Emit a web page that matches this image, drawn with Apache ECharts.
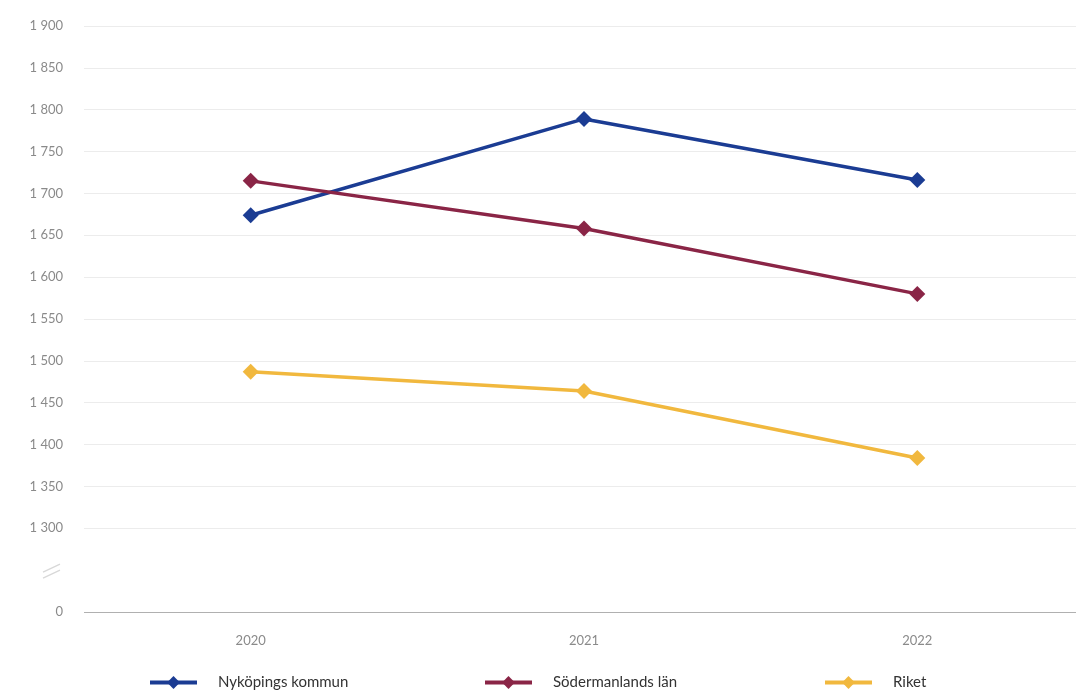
<!DOCTYPE html>
<html><head><meta charset="utf-8">
<script src="https://cdn.jsdelivr.net/npm/echarts@6/dist/echarts.min.js"></script>
<style>html,body{margin:0;padding:0;background:#fff;overflow:hidden}#c{width:1090px;height:697px}</style>
</head><body><div id="c"></div>
<script>
const categories = ['2020', '2021', '2022'];
const seriesNames = ['Nyköpings kommun', 'Södermanlands län', 'Riket'];
const nykoping = [1674, 1789, 1716];
const sodermanland = [1715, 1658, 1580];
const riket = [1487, 1464, 1384];
// axis drawn as a broken axis: the bottom tick stands for 0
const yMin = 1200, yMax = 1900, yStep = 50;
const yBreakValue = 1250;
const yZeroLabel = '0';

const colors = ['#1b3c93', '#8a2546', '#f1b83e'];
const chart = echarts.init(document.getElementById('c'));
const fontFam = 'Lato, "Open Sans", sans-serif';
const splitColors = [];
for (let v = yMin; v <= yMax; v += yStep) splitColors.push(v === yMin ? '#b0b0b0' : (v === yBreakValue ? 'rgba(0,0,0,0)' : '#ececec'));

function fmt(v) {
  if (v === yMin) return yZeroLabel;
  if (v === yBreakValue) return '';
  return String(v).replace(/\B(?=(\d{3})+(?!\d))/g, ' ');
}
const data = [nykoping, sodermanland, riket];
const legendLefts = [143, 478, 818];
chart.setOption({
  animation: false,
  color: colors,
  grid: { left: 84, right: 6, top: 26, bottom: 85, containLabel: false },
  xAxis: {
    type: 'category', data: categories,
    axisLine: { show: false }, axisTick: { show: false },
    axisLabel: { color: '#8a8a8a', fontSize: 13, fontFamily: fontFam, margin: 22 }
  },
  yAxis: {
    type: 'value', min: yMin, max: yMax, interval: yStep,
    axisLine: { show: false }, axisTick: { show: false },
    splitLine: { lineStyle: { color: splitColors, width: 1 } },
    axisLabel: { color: '#8a8a8a', fontSize: 13, fontFamily: fontFam, margin: 21, formatter: fmt }
  },
  legend: legendLefts.map((l, i) => ({
    data: [seriesNames[i]], left: l, bottom: 2, itemWidth: 47, itemHeight: 16,
    lineStyle: { width: 4 },
    textStyle: { color: '#333', fontSize: 15, fontFamily: fontFam, padding: [0, 0, 0, 16] }
  })),
  series: data.map((d, i) => ({
    name: seriesNames[i], type: 'line', data: d,
    symbol: 'diamond', symbolSize: 16, showSymbol: true,
    lineStyle: { width: 3.5, color: colors[i] },
    itemStyle: { color: colors[i] }
  }))
});
const p = chart.convertToPixel({ yAxisIndex: 0 }, yBreakValue);
chart.setOption({
  graphic: [
    { type: 'polyline', shape: { points: [[43, p + 2], [60, p - 6]] }, style: { stroke: '#d8d8d8', lineWidth: 1.2, fill: null } },
    { type: 'polyline', shape: { points: [[43, p + 8], [60, p]] }, style: { stroke: '#d8d8d8', lineWidth: 1.2, fill: null } }
  ]
});
</script></body></html>
